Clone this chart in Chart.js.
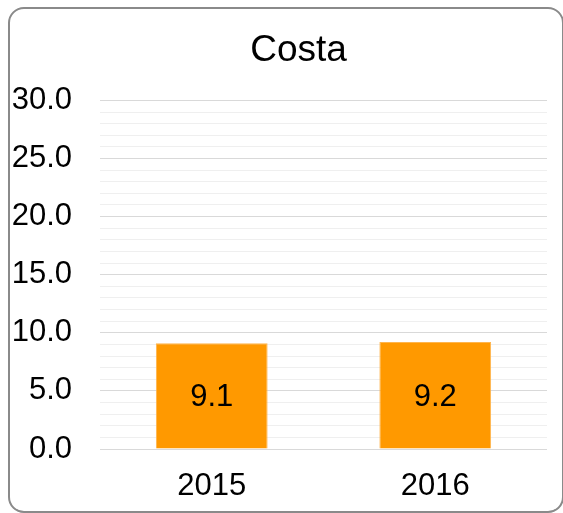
<!DOCTYPE html>
<html>
<head>
<meta charset="utf-8">
<script src="https://cdn.jsdelivr.net/npm/chart.js@4/dist/chart.umd.min.js"></script>
<style>
  html, body { margin: 0; padding: 0; background: #fff; }
  #wrap { position: relative; width: 563px; height: 513px; overflow: hidden; }
  #box { position: absolute; left: 8px; top: 7px; width: 552px; height: 502px;
         border: 2px solid #8a8a8a; border-radius: 16px; box-sizing: content-box; }
  #c { position: absolute; left: 0; top: 0; }
</style>
</head>
<body>
<div id="wrap">
  <div id="box"></div>
  <canvas id="c" width="563" height="513"></canvas>
</div>
<script>
const title = 'Costa';
const categories = ['2015', '2016'];
const values = [9.1, 9.2];
const yMin = 0, yMax = 30, yStep = 1, labelEvery = 5;

const FONT = "'Liberation Sans', Arial, sans-serif";

const valueLabels = {
  id: 'valueLabels',
  afterDatasetsDraw(chart) {
    const ctx = chart.ctx;
    const meta = chart.getDatasetMeta(0);
    ctx.save();
    ctx.font = '31px ' + FONT;
    ctx.fillStyle = '#000';
    ctx.textAlign = 'center';
    ctx.textBaseline = 'middle';
    meta.data.forEach((bar, i) => {
      const p = bar.getProps(['x', 'y', 'base'], true);
      ctx.fillText(values[i].toFixed(1), p.x, (p.y + p.base) / 2 + 2);
    });
    ctx.restore();
  }
};

// shift the title block so it is centred like the reference
const titleShift = {
  id: 'titleShift',
  afterLayout(chart) {
    if (chart.titleBlock) chart.titleBlock.left += 50;
  }
};

new Chart(document.getElementById('c'), {
  type: 'bar',
  data: {
    labels: categories,
    datasets: [{
      data: values,
      backgroundColor: '#ff9900',
      borderColor: '#ffb54d',
      borderWidth: 1,
      barPercentage: 0.5,
      categoryPercentage: 1.0
    }]
  },
  options: {
    responsive: false,
    animation: false,
    events: [],
    layout: { padding: { left: 0, right: 16, top: 0, bottom: 10 } },
    plugins: {
      legend: { display: false },
      tooltip: { enabled: false },
      title: {
        display: true,
        text: title,
        color: '#000',
        font: { family: FONT, size: 37, weight: 'normal' },
        padding: { top: 29, bottom: 27 }
      }
    },
    scales: {
      x: {
        afterFit(scale) { scale.height = 54; },
        grid: { display: false, drawTicks: false },
        border: { display: false },
        ticks: { color: '#000', font: { family: FONT, size: 31 }, padding: 19 }
      },
      y: {
        min: yMin, max: yMax,
        afterFit(scale) { scale.width = 100; },
        grid: {
          drawTicks: false,
          color: (ctx) => (ctx.tick && ctx.tick.value % labelEvery === 0) ? '#d9d9d9' : '#efefef',
          lineWidth: 1
        },
        border: { display: false },
        ticks: {
          stepSize: yStep,
          autoSkip: false,
          padding: 28,
          color: '#000',
          font: { family: FONT, size: 31 },
          callback: (v) => (v % labelEvery === 0) ? Number(v).toFixed(1) : ''
        }
      }
    }
  },
  plugins: [valueLabels, titleShift]
});
</script>
</body>
</html>
